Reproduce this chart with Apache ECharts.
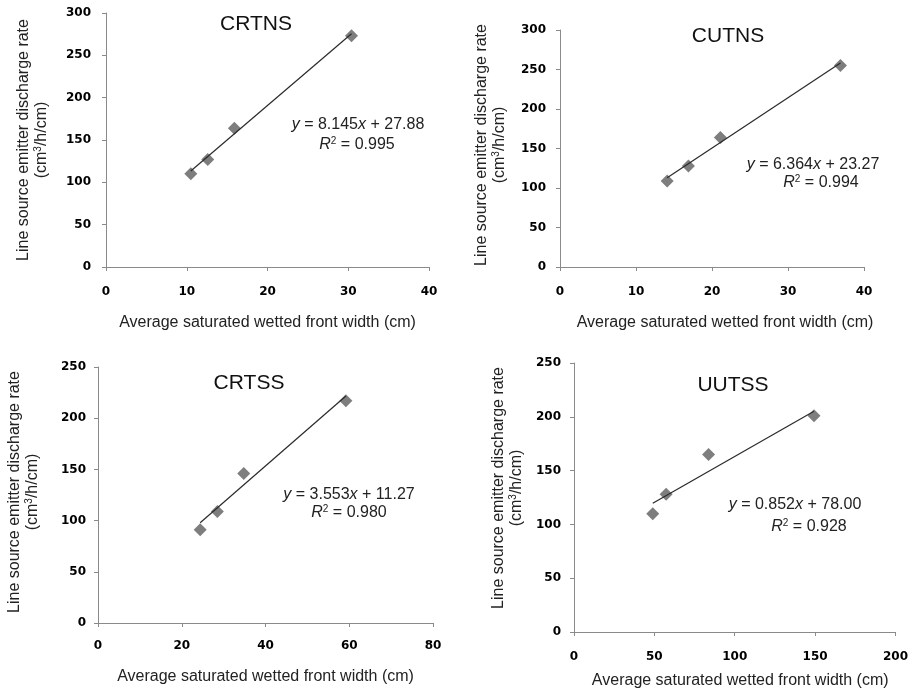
<!DOCTYPE html>
<html><head><meta charset="utf-8">
<script src="https://cdn.jsdelivr.net/npm/echarts@6/dist/echarts.min.js"></script>
<style>html,body{margin:0;padding:0;background:#fff}#c{width:911px;height:693px}</style>
</head><body><div id="c"></div>
<script>
// ---- data ----
const panelNames = ['CRTNS', 'CUTNS', 'CRTSS', 'UUTSS'];
const crtnsX = [10.5, 12.6, 15.9, 30.4];
const crtnsY = [110, 127, 164, 273];
const cutnsX = [14.1, 16.9, 21.1, 36.9];
const cutnsY = [109, 128, 164, 255];
const crtssX = [24.4, 28.5, 34.8, 59.2];
const crtssY = [91, 109, 146, 217];
const uutssX = [49, 57.3, 83.7, 149.3];
const uutssY = [110, 128, 165, 201];
const slopes = [8.145, 6.364, 3.553, 0.852];
const intercepts = [27.88, 23.27, 11.27, 78.00];
const slopeLabels = ['8.145', '6.364', '3.553', '0.852'];
const interceptLabels = ['27.88', '23.27', '11.27', '78.00'];
const r2Labels = ['0.995', '0.994', '0.980', '0.928'];
const xMaxes = [40, 40, 80, 200];
const xIntervals = [10, 10, 20, 50];
const yMaxes = [300, 300, 250, 250];
const yIntervals = [50, 50, 50, 50];
const xAxisName = 'Average saturated wetted front width (cm)';
const yAxisName = 'Line source emitter discharge rate\n(cm{sup|3}/h/cm)';

const xs = [crtnsX, cutnsX, crtssX, uutssX];
const ys = [crtnsY, cutnsY, crtssY, uutssY];

// ---- layout ----
const grids = [
  {left: 106, top: 13, width: 323, height: 254},
  {left: 560, top: 30, width: 304, height: 237},
  {left: 98, top: 367, width: 335, height: 256},
  {left: 574, top: 363, width: 323, height: 269}
];
const xLabelMargin = [19, 19, 17, 19];
const yLabelMargin = [15, 14, 12, 13];
const xNameGap = [48, 48, 46, 41];
const xNamePad = [[0,0,0,0],[0,0,0,26],[0,0,0,0],[0,0,0,11]];
const yNameGap = [55, 51, 56, 48];
const yNamePad = [[0,0,0,0],[0,0,0,7],[0,0,0,6],[0,0,0,19]];
const titlePos = [[256, 24], [728, 36], [249, 383], [733, 385]];
const eqPos = [[358, 125, 357, 145], [813, 165, 821, 183], [349, 495, 349, 513], [795, 505, 809, 527]];

const FONT = '"Liberation Sans", Arial, sans-serif';
const axisColor = '#8a8a8a';
const tickFont = {color: '#000', fontWeight: 'bold', fontSize: 12, fontFamily: '"DejaVu Sans", Verdana, sans-serif'};

const option = {
  backgroundColor: '#fff',
  animation: false,
  grid: grids.map(g => Object.assign({containLabel: false}, g)),
  xAxis: grids.map((g, i) => ({
    gridIndex: i, type: 'value', min: 0, max: xMaxes[i], interval: xIntervals[i],
    splitLine: {show: false},
    axisLine: {lineStyle: {color: axisColor, width: 1}},
    axisTick: {length: 4, lineStyle: {color: axisColor}},
    axisLabel: Object.assign({margin: xLabelMargin[i]}, tickFont),
    name: xAxisName, nameLocation: 'middle', nameGap: xNameGap[i],
    nameTextStyle: {fontSize: 16, fontFamily: FONT, color: '#222', padding: xNamePad[i]}
  })),
  yAxis: grids.map((g, i) => ({
    gridIndex: i, type: 'value', min: 0, max: yMaxes[i], interval: yIntervals[i],
    splitLine: {show: false},
    axisLine: {show: true, lineStyle: {color: axisColor, width: 1}},
    axisTick: {show: true, length: 4, lineStyle: {color: axisColor}},
    axisLabel: Object.assign({margin: yLabelMargin[i]}, tickFont),
    name: yAxisName, nameLocation: 'middle', nameGap: yNameGap[i],
    nameTextStyle: {fontSize: 16, fontFamily: FONT, color: '#222', lineHeight: 18, align: 'center', padding: yNamePad[i],
      rich: {sup: {fontSize: 10, fontFamily: FONT, color: '#222', verticalAlign: 'top', lineHeight: 14}}}
  })),
  series: [],
  graphic: []
};

for (let i = 0; i < 4; i++) {
  option.series.push({
    type: 'scatter', xAxisIndex: i, yAxisIndex: i,
    data: xs[i].map((x, k) => [x, ys[i][k]]),
    symbol: 'diamond', symbolSize: 13,
    itemStyle: {color: '#5e5e5e'}, z: 2
  });
  const x0 = Math.min(...xs[i]), x1 = Math.max(...xs[i]);
  option.series.push({
    type: 'line', xAxisIndex: i, yAxisIndex: i,
    data: [[x0, slopes[i] * x0 + intercepts[i]], [x1, slopes[i] * x1 + intercepts[i]]],
    symbol: 'none', lineStyle: {color: '#2a2a2a', width: 1.2}, z: 3
  });
  option.graphic.push({
    type: 'text', x: titlePos[i][0], y: titlePos[i][1],
    style: {text: panelNames[i], font: '21px ' + FONT, fill: '#111', align: 'center', verticalAlign: 'middle'}
  });
  const eqRich = {
    i: {fontStyle: 'italic', fontSize: 16, fontFamily: FONT, fill: '#222', color: '#222'},
    sup: {fontSize: 10, fontFamily: FONT, fill: '#222', color: '#222', verticalAlign: 'top', lineHeight: 12}
  };
  option.graphic.push({
    type: 'text', x: eqPos[i][0], y: eqPos[i][1],
    style: {text: '{i|y} = ' + slopeLabels[i] + '{i|x} + ' + interceptLabels[i],
      font: '16px ' + FONT, fill: '#222', align: 'center', verticalAlign: 'middle', lineHeight: 18, rich: eqRich}
  });
  option.graphic.push({
    type: 'text', x: eqPos[i][2], y: eqPos[i][3],
    style: {text: '{i|R}{sup|2} = ' + r2Labels[i],
      font: '16px ' + FONT, fill: '#222', align: 'center', verticalAlign: 'middle', lineHeight: 18, rich: eqRich}
  });
}

const chart = echarts.init(document.getElementById('c'), null, {renderer: 'canvas'});
chart.setOption(option);
</script>
</body></html>
